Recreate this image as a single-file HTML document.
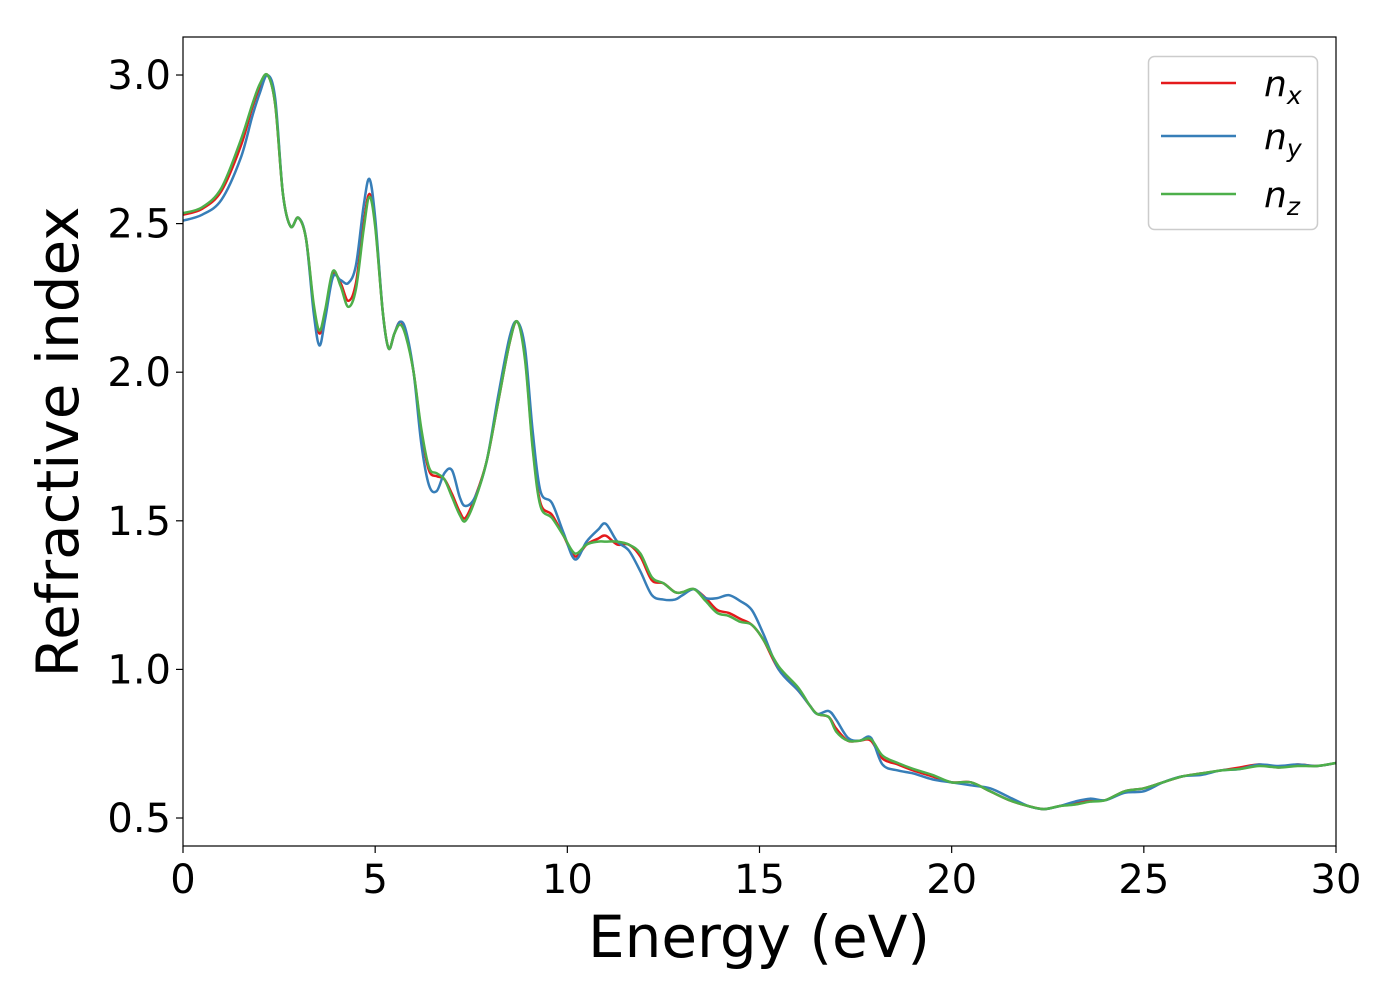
<!DOCTYPE html>
<html><head><meta charset="utf-8"><style>
body{margin:0;background:#fff;}
svg{display:block;font-family:"DejaVu Sans","Liberation Sans",sans-serif;}
</style></head><body>
<svg id="chart" width="1400" height="1000" viewBox="0 0 1400 1000">
<rect x="0" y="0" width="1400" height="1000" fill="#fff"/>
<g id="plot"></g>
<g id="axes"></g>
<text x="759" y="957" font-size="58" text-anchor="middle">Energy (eV)</text>
<text transform="translate(78,442) rotate(-90)" font-size="58" text-anchor="middle">Refractive index</text>
<g>
<rect x="1148.5" y="56.5" width="169" height="173" rx="6" fill="#fff" stroke="#cccccc" stroke-width="1.5"/>
<line x1="1161" y1="83" x2="1236" y2="83" stroke="#e41a1c" stroke-width="2.5"/>
<text x="1264" y="96" font-size="36" font-style="italic">n<tspan font-size="25" dy="8">x</tspan></text>
<line x1="1161" y1="136" x2="1236" y2="136" stroke="#377eb8" stroke-width="2.5"/>
<text x="1264" y="149" font-size="36" font-style="italic">n<tspan font-size="25" dy="8">y</tspan></text>
<line x1="1161" y1="194" x2="1236" y2="194" stroke="#4daf4a" stroke-width="2.5"/>
<text x="1264" y="207" font-size="36" font-style="italic">n<tspan font-size="25" dy="8">z</tspan></text>
</g>
</svg>
<script>
const energy=[0,0.5,1.0,1.5,1.8,2.0,2.2,2.4,2.6,2.8,3.0,3.2,3.4,3.55,3.7,3.9,4.1,4.3,4.5,4.7,4.85,5.0,5.2,5.35,5.5,5.65,5.8,6.0,6.2,6.4,6.6,6.8,7.0,7.2,7.35,7.6,7.9,8.2,8.5,8.7,8.9,9.1,9.3,9.6,9.9,10.2,10.5,10.8,11.0,11.3,11.6,11.9,12.2,12.5,12.8,13.0,13.3,13.6,13.9,14.2,14.5,14.8,15.1,15.5,16.0,16.3,16.5,16.8,17.0,17.3,17.6,17.9,18.2,18.6,19.0,19.5,20.0,20.5,21.0,21.5,22.0,22.4,22.8,23.2,23.6,24.0,24.5,25.0,25.5,26.0,26.5,27.0,27.5,28.0,28.5,29.0,29.5,30];
const nx=[2.53,2.55,2.61,2.76,2.89,2.96,3.0,2.9,2.6,2.49,2.52,2.45,2.22,2.13,2.2,2.33,2.3,2.24,2.3,2.5,2.6,2.5,2.2,2.08,2.13,2.17,2.13,2.0,1.8,1.67,1.65,1.64,1.59,1.53,1.51,1.58,1.7,1.9,2.1,2.17,2.05,1.75,1.56,1.52,1.45,1.38,1.42,1.44,1.45,1.42,1.42,1.38,1.3,1.29,1.26,1.26,1.27,1.24,1.2,1.19,1.17,1.15,1.1,1.0,0.93,0.88,0.85,0.84,0.8,0.76,0.76,0.76,0.7,0.68,0.66,0.64,0.62,0.62,0.59,0.56,0.54,0.53,0.54,0.55,0.56,0.56,0.59,0.6,0.62,0.64,0.65,0.66,0.67,0.68,0.67,0.68,0.675,0.685];
const ny=[2.51,2.53,2.58,2.72,2.86,2.94,3.0,2.92,2.6,2.49,2.52,2.45,2.2,2.09,2.18,2.32,2.31,2.3,2.36,2.56,2.65,2.52,2.2,2.08,2.13,2.17,2.14,2.0,1.76,1.62,1.6,1.66,1.67,1.58,1.55,1.58,1.7,1.92,2.12,2.17,2.08,1.8,1.6,1.56,1.46,1.37,1.43,1.47,1.49,1.43,1.4,1.33,1.25,1.235,1.235,1.25,1.27,1.24,1.24,1.25,1.23,1.2,1.12,1.0,0.93,0.88,0.85,0.86,0.83,0.77,0.76,0.77,0.68,0.66,0.65,0.63,0.62,0.61,0.6,0.57,0.54,0.53,0.54,0.555,0.565,0.56,0.585,0.59,0.62,0.64,0.645,0.66,0.665,0.68,0.675,0.68,0.675,0.685];
const nz=[2.535,2.555,2.62,2.78,2.9,2.97,3.0,2.9,2.6,2.49,2.52,2.45,2.23,2.14,2.21,2.34,2.29,2.22,2.28,2.48,2.59,2.49,2.2,2.08,2.13,2.16,2.12,2.0,1.81,1.68,1.66,1.64,1.58,1.52,1.50,1.57,1.7,1.9,2.1,2.17,2.04,1.74,1.55,1.51,1.45,1.39,1.42,1.43,1.43,1.43,1.42,1.39,1.31,1.29,1.26,1.26,1.27,1.23,1.19,1.18,1.16,1.15,1.1,1.01,0.94,0.88,0.85,0.84,0.79,0.76,0.76,0.765,0.71,0.685,0.665,0.645,0.62,0.62,0.59,0.56,0.54,0.53,0.54,0.545,0.555,0.56,0.59,0.6,0.62,0.64,0.65,0.66,0.665,0.675,0.67,0.675,0.675,0.685];
const xTicks=[0,5,10,15,20,25,30];
const yTicks=[0.5,1.0,1.5,2.0,2.5,3.0];
const yTickLabels=["0.5","1.0","1.5","2.0","2.5","3.0"];

const X0=183,X1=1336,Y0=37,Y1=846,xmin=0,xmax=30,ymin=0.4058,ymax=3.1279;
const xs=v=>X0+(v-xmin)/(xmax-xmin)*(X1-X0);
const ys=v=>Y1-(v-ymin)/(ymax-ymin)*(Y1-Y0);
const NS="http://www.w3.org/2000/svg";
const plot=document.getElementById('plot'),axes=document.getElementById('axes');
function mk(tag,attrs,parent){const e=document.createElementNS(NS,tag);for(const k in attrs)e.setAttribute(k,attrs[k]);parent.appendChild(e);return e;}
function pathFor(vals){
  const p=energy.map((e,i)=>[xs(e),ys(vals[i])]);
  let d="M"+p[0][0].toFixed(2)+","+p[0][1].toFixed(2);
  for(let i=0;i<p.length-1;i++){
    const a=p[Math.max(i-1,0)],b=p[i],c=p[i+1],q=p[Math.min(i+2,p.length-1)];
    const c1=[b[0]+(c[0]-a[0])/6,b[1]+(c[1]-a[1])/6],c2=[c[0]-(q[0]-b[0])/6,c[1]-(q[1]-b[1])/6];
    d+="C"+c1[0].toFixed(2)+","+c1[1].toFixed(2)+" "+c2[0].toFixed(2)+","+c2[1].toFixed(2)+" "+c[0].toFixed(2)+","+c[1].toFixed(2);
  }
  return d;
}
const series=[["nx",nx,"#e41a1c"],["ny",ny,"#377eb8"],["nz",nz,"#4daf4a"]];
for(const [n,v,c] of series){
  const el=mk('path',{d:pathFor(v),fill:"none",stroke:c,"stroke-width":2.5,"stroke-linejoin":"round"},plot);
  
  
}
const frame=mk('rect',{x:X0,y:Y0,width:X1-X0,height:Y1-Y0,fill:"none",stroke:"#000","stroke-width":1.2},axes);


xTicks.forEach(t=>{
  const x=xs(t);
  const tk=mk('line',{x1:x,y1:Y1,x2:x,y2:Y1+7,stroke:"#000","stroke-width":1.2},axes);
  
  
  const lb=mk('text',{x:x,y:893,"font-size":40,"text-anchor":"middle"},axes);
  lb.textContent=String(t);
  
  
});
yTicks.forEach((t,i)=>{
  const y=ys(t);
  const tk=mk('line',{x1:X0-7,y1:y,x2:X0,y2:y,stroke:"#000","stroke-width":1.2},axes);
  
  
  const lb=mk('text',{x:171,y:y+14,"font-size":40,"text-anchor":"end"},axes);
  lb.textContent=yTickLabels[i];
  
  
});
</script>
</body></html>
